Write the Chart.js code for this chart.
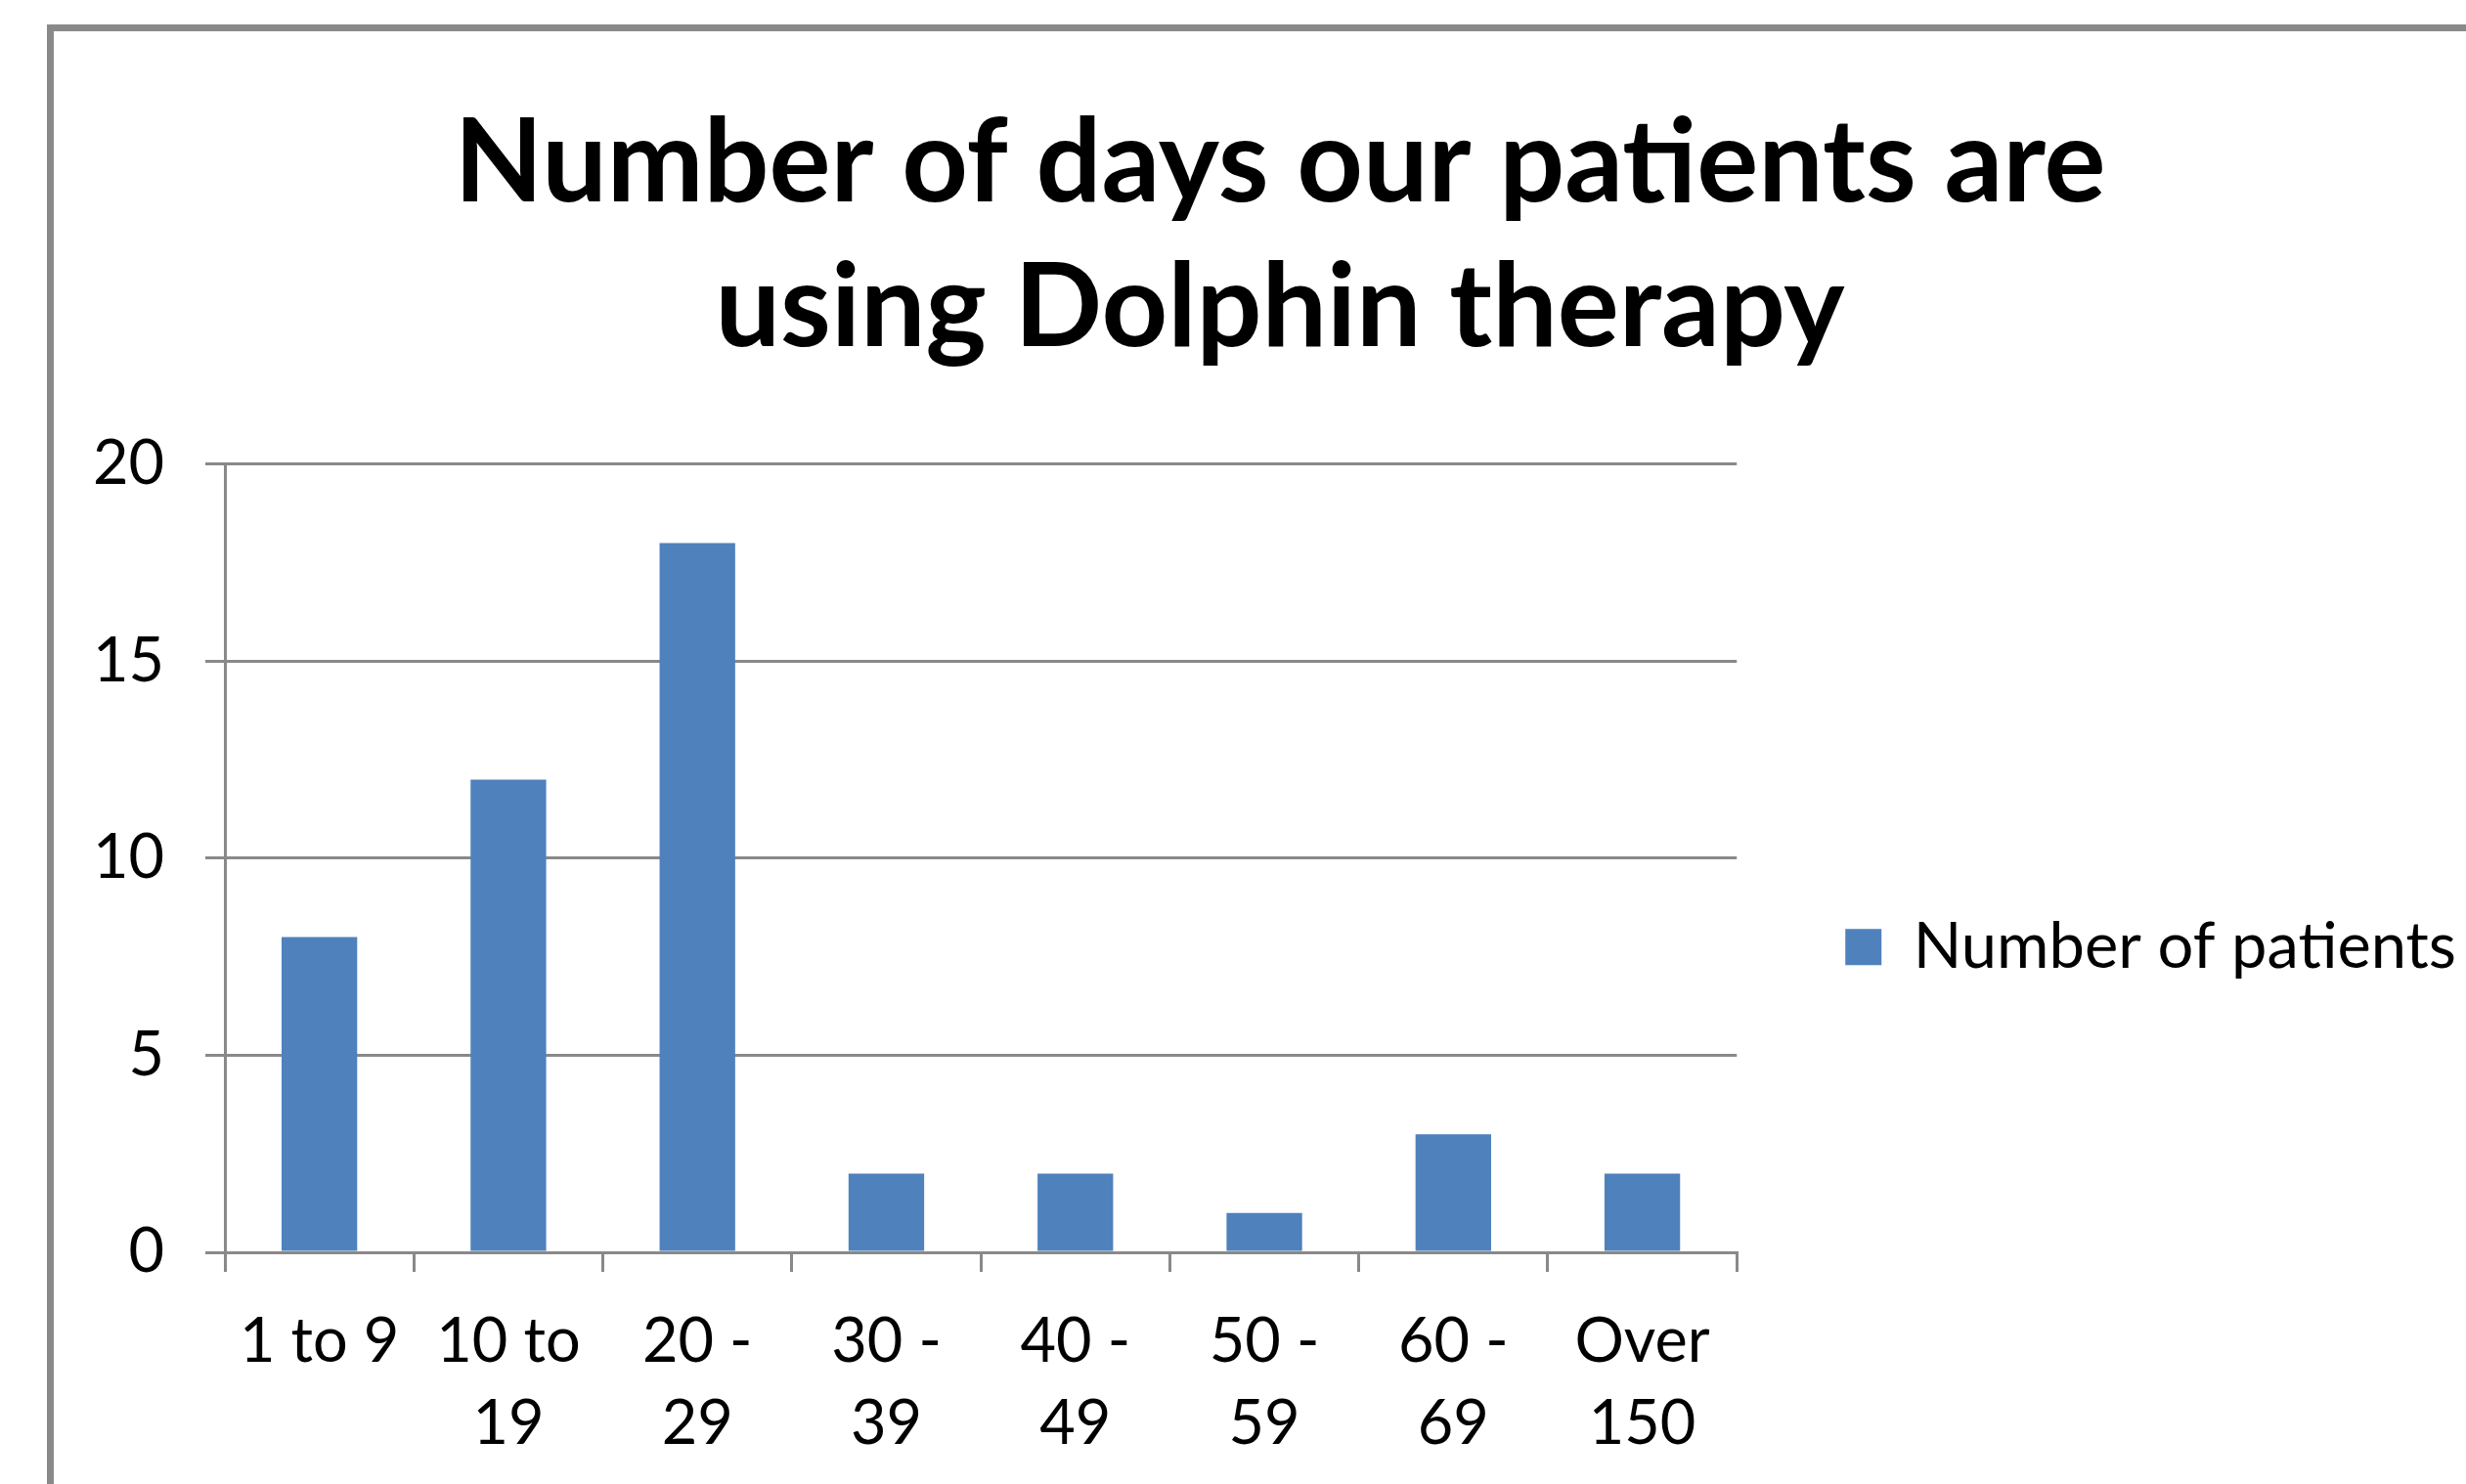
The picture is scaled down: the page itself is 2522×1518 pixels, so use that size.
<!DOCTYPE html>
<html>
<head>
<meta charset="utf-8">
<script src="https://cdn.jsdelivr.net/npm/chart.js@4"></script>
<style>
  html, body { margin: 0; padding: 0; background: #fff; overflow: hidden; }
  #frame {
    position: absolute; left: 48px; top: 25px; width: 3000px; height: 3000px;
    border-left: 7px solid #898989; border-top: 7px solid #898989;
  }
  #wrap { position: absolute; left: 0; top: 0; width: 2522px; height: 1529px; }
</style>
</head>
<body>
<div id="frame"></div>
<div id="wrap"><canvas id="myChart" width="2522" height="1529"></canvas></div>
<script>
const titleLines = ['Number of days our patients are', 'using Dolphin therapy'];
const categories = [
    '1 to 9', ['10 to', '19'], ['20 -', '29'], ['30 -', '39'],
    ['40 -', '49'], ['50 -', '59'], ['60 -', '69'], ['Over', '150']
];
const patients = [8, 12, 18, 2, 2, 1, 3, 2];
const yTicks = [0, 5, 10, 15, 20];

const gray = '#898989';
const labelFont = { family: 'Lato', size: 63 };

const ctx = document.getElementById('myChart').getContext('2d');

const myChart = new Chart(ctx, {
    type: 'bar',
    data: {
        labels: categories,
        datasets: [{
            label: 'Number of patients',
            data: patients,
            backgroundColor: '#4F81BD',
            barPercentage: 0.4,
            categoryPercentage: 1
        }]
    },
    options: {
        responsive: false,
        animation: false,
        layout: { padding: { left: 96, top: 94, right: 0, bottom: 0 } },
        plugins: {
            title: {
                display: true,
                text: titleLines,
                color: '#000',
                font: { family: 'Lato', weight: 'bold', size: 118, lineHeight: 1.254 },
                padding: { top: 0, bottom: 85 }
            },
            legend: {
                position: 'right',
                maxWidth: 790,
                // empty legend title only pushes the single item down
                title: { display: true, text: ' ', padding: { top: 210, bottom: 90 } },
                labels: {
                    color: '#000',
                    font: { family: 'Lato', size: 65 },
                    boxWidth: 37,
                    boxHeight: 37,
                    padding: 111
                }
            },
            tooltip: { enabled: false }
        },
        scales: {
            x: {
                grid: {
                    drawOnChartArea: false,
                    drawTicks: true,
                    tickLength: 20,
                    color: gray,
                    lineWidth: 3
                },
                border: { display: true, color: gray, width: 3 },
                ticks: { color: '#000', font: { family: 'Lato', size: 63, lineHeight: 1.333 }, padding: 30, maxRotation: 0, autoSkip: false }
            },
            y: {
                min: 0,
                max: 20,
                afterBuildTicks: (scale) => {
                    scale.ticks = yTicks.map(v => ({ value: v }));
                },
                afterFit: (scale) => { scale.width = 230 - 96; },
                grid: { color: gray, lineWidth: 3, tickLength: 20 },
                border: { display: true, color: gray, width: 3 },
                ticks: { color: '#000', font: labelFont, padding: 42 }
            }
        }
    }
});
</script>
</body>
</html>
